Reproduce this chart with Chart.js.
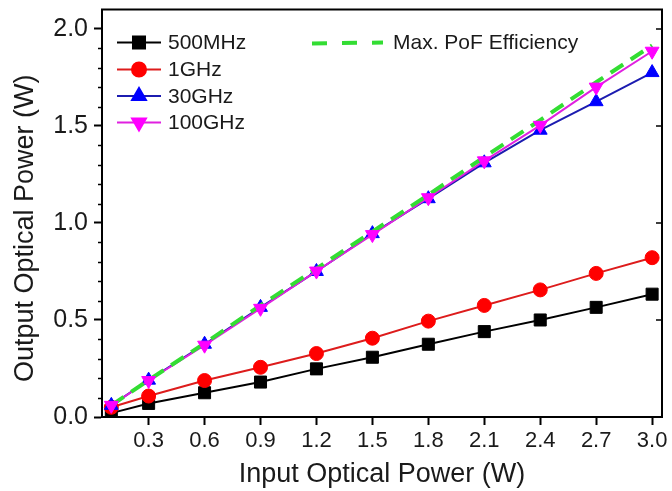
<!DOCTYPE html>
<html>
<head>
<meta charset="utf-8">
<script src="https://cdn.jsdelivr.net/npm/chart.js@4.4.0/dist/chart.umd.min.js"></script>
<style>
  html, body { margin: 0; padding: 0; background: #fff; }
  #wrap { width: 672px; height: 491px; }
</style>
</head>
<body>
<div id="wrap"><canvas id="chart" width="672" height="491"></canvas></div>
<script>
// data
const inputPower = [0.1, 0.3, 0.6, 0.9, 1.2, 1.5, 1.8, 2.1, 2.4, 2.7, 3.0];
const out500MHz = [0.02, 0.07, 0.125, 0.18, 0.248, 0.308, 0.375, 0.44, 0.5, 0.565, 0.633];
const out1GHz = [0.05, 0.108, 0.188, 0.256, 0.327, 0.406, 0.494, 0.575, 0.655, 0.74, 0.821];
const out30GHz = [0.06, 0.19, 0.375, 0.565, 0.75, 0.945, 1.125, 1.31, 1.478, 1.625, 1.775];
const out100GHz = [0.06, 0.188, 0.37, 0.56, 0.752, 0.94, 1.13, 1.32, 1.503, 1.70, 1.885];
const maxEfficiency = [0.06, 0.19, 0.38, 0.575, 0.765, 0.955, 1.145, 1.34, 1.53, 1.725, 1.915];

const xTicks = [0.3, 0.6, 0.9, 1.2, 1.5, 1.8, 2.1, 2.4, 2.7, 3.0];
const yTicks = [0, 0.5, 1.0, 1.5, 2.0];
const yMinorTicks = [0.1, 0.2, 0.3, 0.4, 0.6, 0.7, 0.8, 0.9, 1.1, 1.2, 1.3, 1.4, 1.6, 1.7, 1.8, 1.9];

const FONT = '"Liberation Sans", Arial, sans-serif';
const TEXT = '#1a1a1a';
const Y_TITLE = 'Output Optical Power (W)';

function pts(values) {
    return inputPower.map((x, i) => ({ x: x, y: values[i] }));
}

// legend entries (line colour, marker)
const legendLeft = [
    { label: '500MHz', line: '#000000', fill: '#000000', style: 'rect', radius: 8.5, rotation: 0 },
    { label: '1GHz', line: '#dd1c1c', fill: '#ff0000', style: 'circle', radius: 7, rotation: 0 },
    { label: '30GHz', line: '#1c1cb0', fill: '#0000ff', style: 'triangle', radius: 8, rotation: 0 },
    { label: '100GHz', line: '#e020e0', fill: '#ff00ff', style: 'triangle', radius: 8, rotation: 180 }
];

// box round the plot, minor ticks on the left, inward ticks on the right
const framePlugin = {
    id: 'frame',
    afterDatasetsDraw(chart) {
        const ctx = chart.ctx;
        const a = chart.chartArea;
        const y = chart.scales.y;
        ctx.save();
        ctx.strokeStyle = '#000';
        ctx.lineWidth = 2;
        ctx.strokeRect(a.left, a.top, a.right - a.left, a.bottom - a.top);
        ctx.lineWidth = 1.5;
        ctx.beginPath();
        yMinorTicks.forEach(v => {
            const py = Math.round(y.getPixelForValue(v)) + 0.5;
            ctx.moveTo(a.left - 4, py);
            ctx.lineTo(a.left, py);
        });
        yTicks.forEach(v => {
            const py = Math.round(y.getPixelForValue(v));
            ctx.moveTo(a.right, py);
            ctx.lineTo(a.right - 6, py);
        });
        ctx.stroke();
        ctx.restore();
    },
    afterDraw(chart) {
        const ctx = chart.ctx;
        const a = chart.chartArea;
        ctx.save();

        // y axis title, sits a bit below the middle of the plot in the original
        ctx.save();
        ctx.translate(26, (a.top + a.bottom) / 2 + 15);
        ctx.rotate(-Math.PI / 2);
        ctx.font = '27px ' + FONT;
        ctx.fillStyle = TEXT;
        ctx.textAlign = 'center';
        ctx.textBaseline = 'middle';
        ctx.fillText(Y_TITLE, 0, 0);
        ctx.restore();

        ctx.font = '21px ' + FONT;
        ctx.textBaseline = 'middle';
        ctx.textAlign = 'left';
        const rows = [33, 60, 86.5, 113];
        legendLeft.forEach((e, i) => {
            const cy = a.top + rows[i];
            ctx.strokeStyle = e.line;
            ctx.lineWidth = 2;
            ctx.beginPath();
            ctx.moveTo(a.left + 15, cy);
            ctx.lineTo(a.left + 59, cy);
            ctx.stroke();
            ctx.fillStyle = e.fill;
            ctx.strokeStyle = e.fill;
            Chart.helpers.drawPoint(ctx, { pointStyle: e.style, radius: e.radius, rotation: e.rotation, borderWidth: 1 }, a.left + 37, cy);
            ctx.fillStyle = TEXT;
            ctx.fillText(e.label, a.left + 66, cy + 1);
        });
        // dashed green entry
        const gy = a.top + 33;
        ctx.strokeStyle = '#33dd33';
        ctx.lineWidth = 4;
        ctx.setLineDash([15, 15]);
        ctx.beginPath();
        ctx.moveTo(a.left + 210, gy + 1);
        ctx.lineTo(a.left + 281, gy);
        ctx.stroke();
        ctx.setLineDash([]);
        ctx.fillStyle = TEXT;
        ctx.fillText('Max. PoF Efficiency', a.left + 291, gy + 1);
        ctx.restore();
    }
};

const ctx = document.getElementById('chart');

new Chart(ctx, {
    type: 'line',
    data: {
        datasets: [
            {
                label: '500MHz',
                data: pts(out500MHz),
                borderColor: '#000000',
                backgroundColor: '#000000',
                borderWidth: 2,
                pointStyle: 'rect',
                pointRadius: 8.5,
                pointBorderWidth: 1,
                order: 5
            },
            {
                label: '1GHz',
                data: pts(out1GHz),
                borderColor: '#dd1c1c',
                backgroundColor: '#ff0000',
                pointBorderColor: '#ff0000',
                borderWidth: 2,
                pointStyle: 'circle',
                pointRadius: 7,
                pointBorderWidth: 1,
                order: 4
            },
            {
                label: '30GHz',
                data: pts(out30GHz),
                borderColor: '#1c1cb0',
                backgroundColor: '#0000ff',
                pointBorderColor: '#0000ff',
                borderWidth: 2,
                pointStyle: 'triangle',
                pointRadius: 8,
                pointBorderWidth: 1,
                order: 3
            },
            {
                label: '100GHz line',
                data: pts(out100GHz),
                borderColor: '#e020e0',
                borderWidth: 2,
                pointRadius: 0,
                order: 2
            },
            {
                label: 'Max. PoF Efficiency',
                data: pts(maxEfficiency),
                borderColor: '#33dd33',
                borderWidth: 4,
                borderDash: [15, 9],
                pointRadius: 0,
                order: 1
            },
            {
                label: '100GHz',
                data: pts(out100GHz),
                showLine: false,
                backgroundColor: '#ff00ff',
                pointBorderColor: '#ff00ff',
                pointStyle: 'triangle',
                pointRotation: 180,
                pointRadius: 8,
                pointBorderWidth: 1,
                order: 0
            }
        ]
    },
    options: {
        responsive: false,
        animation: false,
        events: [],
        layout: { padding: { top: 5, right: 10, left: 0, bottom: 0 } },
        plugins: {
            legend: { display: false },
            tooltip: { enabled: false }
        },
        scales: {
            x: {
                type: 'linear',
                min: 0.05,
                max: 3.053,
                afterBuildTicks: scale => { scale.ticks = xTicks.map(v => ({ value: v })); },
                afterFit: scale => {
                    scale.height = 74;
                    scale.paddingLeft = 0;
                    scale.paddingRight = 0;
                },
                border: { display: true, color: '#000', width: 2 },
                grid: { drawOnChartArea: false, drawTicks: true, tickLength: 8, tickWidth: 2, tickColor: '#000' },
                ticks: {
                    padding: 3,
                    color: TEXT,
                    font: { family: FONT, size: 22 },
                    maxRotation: 0,
                    autoSkip: false,
                    callback: v => Number(v).toFixed(1)
                },
                title: {
                    display: true,
                    text: 'Input Optical Power (W)',
                    color: TEXT,
                    font: { family: FONT, size: 27 },
                    padding: { top: 0, bottom: 0 }
                }
            },
            y: {
                type: 'linear',
                min: 0,
                max: 2.1,
                afterBuildTicks: scale => { scale.ticks = yTicks.map(v => ({ value: v })); },
                afterFit: scale => {
                    scale.width = 102;
                    scale.paddingTop = 0;
                    scale.paddingBottom = 0;
                },
                border: { display: true, color: '#000', width: 2 },
                grid: { drawOnChartArea: false, drawTicks: true, tickLength: 8, tickWidth: 2, tickColor: '#000' },
                ticks: {
                    padding: 6,
                    color: TEXT,
                    font: { family: FONT, size: 25 },
                    autoSkip: false,
                    callback: v => Number(v).toFixed(1)
                },
                title: { display: false }
            }
        }
    },
    plugins: [framePlugin]
});
</script>
</body>
</html>
